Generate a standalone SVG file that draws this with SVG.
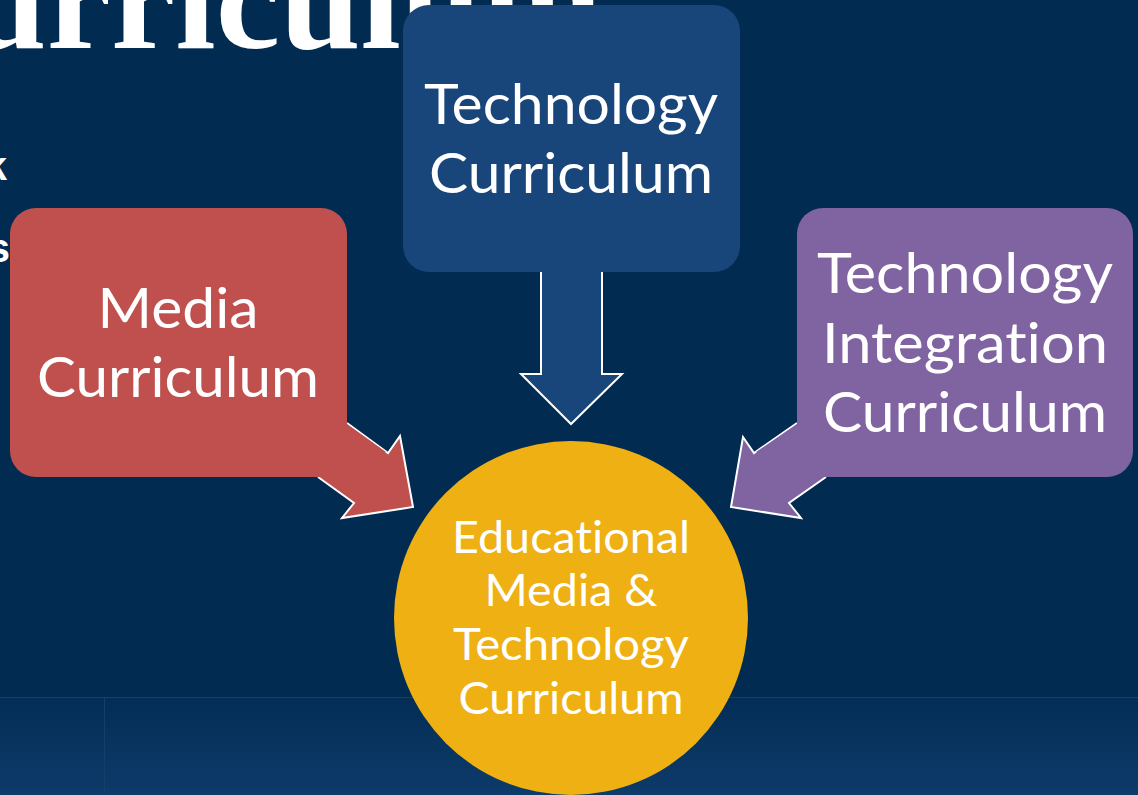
<svg xmlns="http://www.w3.org/2000/svg" width="1138" height="795" viewBox="0 0 1138 795">
  <defs>
    <linearGradient id="band" x1="0" y1="0" x2="0" y2="1">
      <stop offset="0" stop-color="#032d55"/>
      <stop offset="1" stop-color="#0d3b6a"/>
    </linearGradient>
    <style>
      .lbl { font-family: Lato, "Open Sans", "Liberation Sans", sans-serif; fill: #ffffff; text-anchor: middle;
             font-variant-ligatures: none; font-feature-settings: "liga" 0, "dlig" 0; }
      .big { font-size: 56px; }
      .small { font-size: 44px; }
      .arrow { stroke: #ffffff; stroke-width: 2; stroke-linejoin: miter; }
    </style>
  </defs>

  <!-- slide background -->
  <rect x="0" y="0" width="1138" height="795" fill="#012b51"/>
  <rect x="0" y="697" width="1138" height="98" fill="url(#band)"/>
  <line x1="0" y1="697.5" x2="1138" y2="697.5" stroke="#17406b" stroke-width="1"/>
  <line x1="104.5" y1="698" x2="104.5" y2="795" stroke="#143f6b" stroke-width="1"/>

  <!-- slide title and body text behind the diagram -->
  <text x="-34" y="48" font-family="'Liberation Serif', serif" font-weight="bold" font-size="145" fill="#ffffff">urriculum</text>
  <text x="7" y="180" font-family="'Liberation Sans', sans-serif" font-weight="bold" font-size="40" fill="#ffffff" text-anchor="end">k</text>
  <text x="10" y="262" font-family="'Liberation Sans', sans-serif" font-weight="bold" font-size="40" fill="#ffffff" text-anchor="end">s</text>

  <!-- connectors -->
  <g id="connectors" class="arrow">
    <path d="M541,272 V374 H521 L571,424 L622,374 H602 V272" fill="#18457a"/>
    <path d="M347,423 L388,453 L400,436 L413,507 L342,518 L354,503 L318,477" fill="#c0504d"/>
    <path d="M797,423 L754,453 L743,437 L731,507 L801,518 L789,503 L826,477" fill="#8064a2"/>
  </g>
  <!-- arrow bodies joined to their boxes without the white edge -->
  <g id="connector-fill">
    <rect x="542" y="265" width="59" height="12" fill="#18457a"/>
    <polygon points="347,424 386,452 340,470 320,476 330,470 340,470" fill="#c0504d"/>
    <polygon points="797,424 756,452 806,470 824,476 813,470 806,470" fill="#8064a2"/>
  </g>

  <g id="node-technology">
    <rect x="403" y="5" width="337" height="267" rx="26" fill="#18457a"/>
    <text class="lbl big" x="571" y="124" textLength="294" lengthAdjust="spacingAndGlyphs">Technology</text>
    <text class="lbl big" x="571" y="193" textLength="284" lengthAdjust="spacingAndGlyphs">Curriculum</text>
  </g>

  <g id="node-media">
    <rect x="10" y="208" width="337" height="269" rx="26" fill="#c0504d"/>
    <text class="lbl big" x="178" y="328" textLength="161" lengthAdjust="spacingAndGlyphs">Media</text>
    <text class="lbl big" x="178" y="397" textLength="282" lengthAdjust="spacingAndGlyphs">Curriculum</text>
  </g>

  <g id="node-integration">
    <rect x="797" y="208" width="336" height="269" rx="26" fill="#8064a2"/>
    <text class="lbl big" x="965" y="293" textLength="296" lengthAdjust="spacingAndGlyphs">Technology</text>
    <text class="lbl big" x="965" y="363" textLength="286" lengthAdjust="spacingAndGlyphs">Integration</text>
    <text class="lbl big" x="965" y="432" textLength="284" lengthAdjust="spacingAndGlyphs">Curriculum</text>
  </g>

  <g id="node-center">
    <circle cx="571" cy="618" r="177" fill="#eeb013"/>
    <text class="lbl small" x="571" y="553" textLength="238" lengthAdjust="spacingAndGlyphs">Educational</text>
    <text class="lbl small" x="571" y="606" textLength="173" lengthAdjust="spacingAndGlyphs">Media &amp;</text>
    <text class="lbl small" x="571" y="660" textLength="236" lengthAdjust="spacingAndGlyphs">Technology</text>
    <text class="lbl small" x="571" y="714" textLength="225" lengthAdjust="spacingAndGlyphs">Curriculum</text>
  </g>
</svg>
